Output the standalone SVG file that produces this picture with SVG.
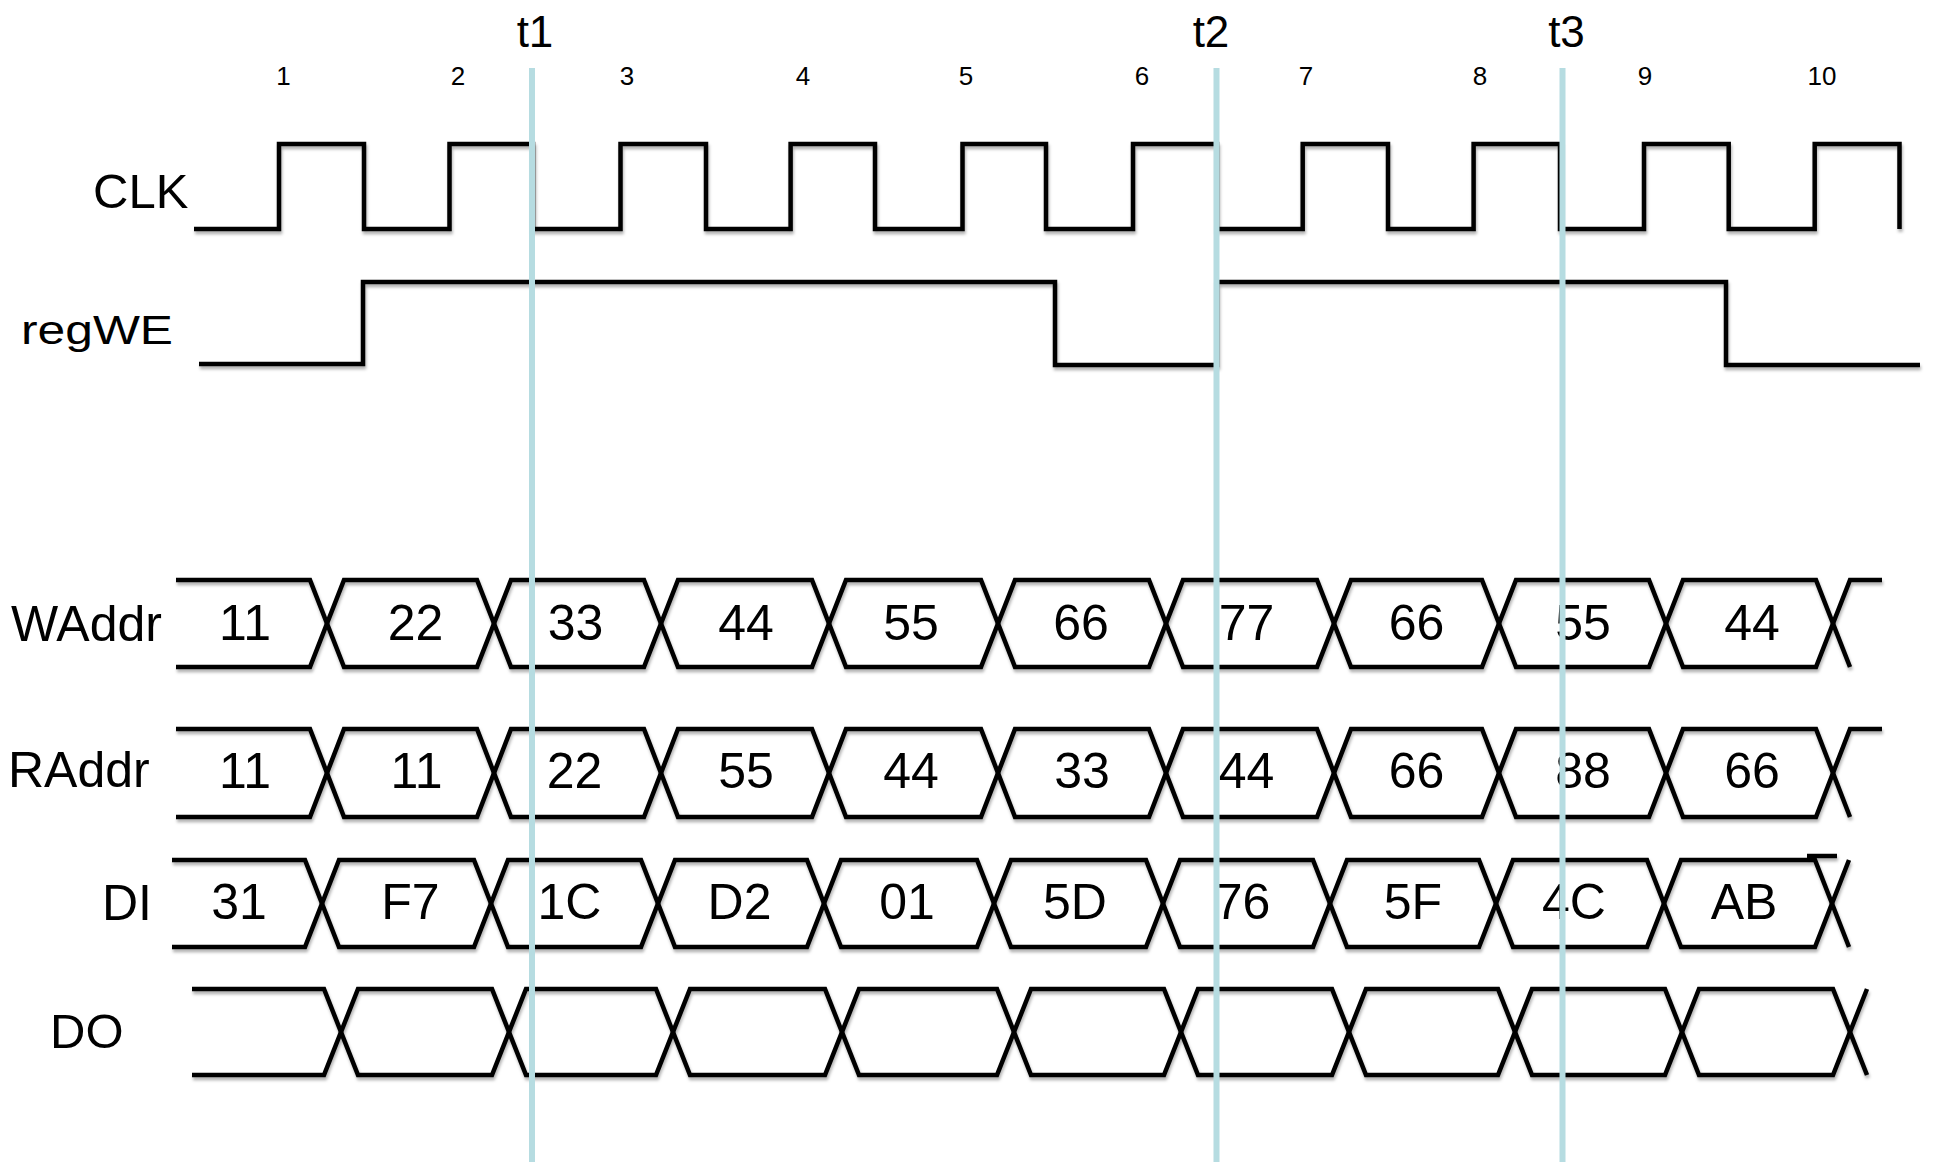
<svg xmlns="http://www.w3.org/2000/svg" width="1933" height="1167" viewBox="0 0 1933 1167">
<style>
text{font-family:"Liberation Sans",Arial,Helvetica,sans-serif;fill:#000}
.lbl{font-size:50px}
.val{font-size:50px;text-anchor:middle}
.num{font-size:26px;text-anchor:middle}
.tm{font-size:44px;text-anchor:middle}
.wave{fill:none;stroke:#000;stroke-width:4.5;stroke-linejoin:miter;stroke-linecap:butt}
.marker{stroke:#b6dce1;stroke-width:6;fill:none}
</style>
<defs>
<filter id="sh" filterUnits="userSpaceOnUse" x="0" y="0" width="1933" height="1167">
<feDropShadow dx="1" dy="3" stdDeviation="1.5" flood-color="#000" flood-opacity="0.3"/>
</filter>
</defs>
<rect width="1933" height="1167" fill="#fff"/>

<g id="cycles">
<text class="num" x="283.5" y="85">1</text>
<text class="num" x="458" y="85">2</text>
<text class="num" x="627" y="85">3</text>
<text class="num" x="803" y="85">4</text>
<text class="num" x="966" y="85">5</text>
<text class="num" x="1142" y="85">6</text>
<text class="num" x="1306" y="85">7</text>
<text class="num" x="1480" y="85">8</text>
<text class="num" x="1645" y="85">9</text>
<text class="num" x="1822" y="85">10</text>
</g>

<g id="clk">
<text class="lbl" x="93" y="208" style="font-size:49px">CLK</text>
<path class="wave" filter="url(#sh)" d="M194,229 L279,229 L279,144 L364,144 L364,229 L449.5,229 L449.5,144 L533,144 L533,229 L620.5,229 L620.5,144 L706,144 L706,229 L790.6,229 L790.6,144 L875,144 L875,229 L962.5,229 L962.5,144 L1046,144 L1046,229 L1133,229 L1133,144 L1217,144 L1217,229 L1302.7,229 L1302.7,144 L1388,144 L1388,229 L1473.6,229 L1473.6,144 L1560,144 L1560,229 L1644,229 L1644,144 L1728.7,144 L1728.7,229 L1814.7,229 L1814.7,144 L1899.5,144 L1899.5,229"/>
</g>

<g id="regWE">
<text class="lbl" x="21" y="344" style="font-size:40px" textLength="152" lengthAdjust="spacingAndGlyphs">regWE</text>
<path class="wave" filter="url(#sh)" d="M199,364 L363,364 L363,282 L1055,282 L1055,365 L1217,365 L1217,282 L1726,282 L1726,365 L1920,365"/>
</g>

<g id="WAddr">
<text class="lbl" x="11" y="641">WAddr</text>
<g filter="url(#sh)">
<path class="wave" d="M176,580 L310,580 L344,667 L477,667 L511,580 L644,580 L678,667 L812,667 L846,580 L981,580 L1015,667 L1149,667 L1183,580 L1317,580 L1351,667 L1482,667 L1516,580 L1649,580 L1683,667 L1816,667 L1850,580 L1882,580"/>
<path class="wave" d="M176,667 L310,667 L344,580 L477,580 L511,667 L644,667 L678,580 L812,580 L846,667 L981,667 L1015,580 L1149,580 L1183,667 L1317,667 L1351,580 L1482,580 L1516,667 L1649,667 L1683,580 L1816,580 L1850,667"/>
</g>
<text class="val" x="245" y="640">11</text>
<text class="val" x="415.5" y="640">22</text>
<text class="val" x="575.5" y="640">33</text>
<text class="val" x="746" y="640">44</text>
<text class="val" x="911" y="640">55</text>
<text class="val" x="1081" y="640">66</text>
<text class="val" x="1246.5" y="640">77</text>
<text class="val" x="1416.5" y="640">66</text>
<text class="val" x="1583" y="640">55</text>
<text class="val" x="1752" y="640">44</text>
</g>

<g id="RAddr">
<text class="lbl" x="8" y="787">RAddr</text>
<g filter="url(#sh)">
<path class="wave" d="M176,729 L310,729 L344,817 L477,817 L511,729 L644,729 L678,817 L812,817 L846,729 L981,729 L1015,817 L1149,817 L1183,729 L1317,729 L1351,817 L1482,817 L1516,729 L1649,729 L1683,817 L1816,817 L1850,729 L1882,729"/>
<path class="wave" d="M176,817 L310,817 L344,729 L477,729 L511,817 L644,817 L678,729 L812,729 L846,817 L981,817 L1015,729 L1149,729 L1183,817 L1317,817 L1351,729 L1482,729 L1516,817 L1649,817 L1683,729 L1816,729 L1850,817"/>
</g>
<text class="val" x="245" y="788">11</text>
<text class="val" x="416.5" y="788">11</text>
<text class="val" x="574.5" y="788">22</text>
<text class="val" x="746" y="788">55</text>
<text class="val" x="911" y="788">44</text>
<text class="val" x="1082" y="788">33</text>
<text class="val" x="1246.5" y="788">44</text>
<text class="val" x="1416.5" y="788">66</text>
<text class="val" x="1583" y="788">88</text>
<text class="val" x="1752" y="788">66</text>
</g>

<g id="DI">
<text class="lbl" x="102" y="920">DI</text>
<g filter="url(#sh)">
<path class="wave" d="M172,860 L305,860 L339,947 L474,947 L508,860 L641,860 L675,947 L807,947 L841,860 L977,860 L1011,947 L1146,947 L1180,860 L1313,860 L1347,947 L1479,947 L1513,860 L1647,860 L1681,947 L1815,947 L1849,860"/>
<path class="wave" d="M172,947 L305,947 L339,860 L474,860 L508,947 L641,947 L675,860 L807,860 L841,947 L977,947 L1011,860 L1146,860 L1180,947 L1313,947 L1347,860 L1479,860 L1513,947 L1647,947 L1681,860 L1815,860 L1849,947"/>
<path class="wave" d="M1807,856 L1837,856"/>
</g>
<text class="val" x="239" y="919">31</text>
<text class="val" x="410.5" y="919">F7</text>
<text class="val" x="569.5" y="919">1C</text>
<text class="val" x="739.5" y="919">D2</text>
<text class="val" x="907" y="919">01</text>
<text class="val" x="1075" y="919">5D</text>
<text class="val" x="1242.5" y="919">76</text>
<text class="val" x="1413" y="919">5F</text>
<text class="val" x="1574" y="919">4C</text>
<text class="val" x="1744" y="919">AB</text>
</g>

<g id="DO">
<text class="lbl" x="50" y="1048" style="font-size:49px">DO</text>
<g filter="url(#sh)">
<path class="wave" d="M192,989 L324,989 L358,1075 L492,1075 L526,989 L656,989 L690,1075 L825,1075 L859,989 L997,989 L1031,1075 L1164,1075 L1198,989 L1332,989 L1366,1075 L1498,1075 L1532,989 L1665,989 L1699,1075 L1833,1075 L1867,989"/>
<path class="wave" d="M192,1075 L324,1075 L358,989 L492,989 L526,1075 L656,1075 L690,989 L825,989 L859,1075 L997,1075 L1031,989 L1164,989 L1198,1075 L1332,1075 L1366,989 L1498,989 L1532,1075 L1665,1075 L1699,989 L1833,989 L1867,1075"/>
</g>
</g>

<g id="connectors">
<line class="marker" x1="532" y1="68" x2="532" y2="1162"/>
<line class="marker" x1="1216.5" y1="68" x2="1216.5" y2="1162"/>
<line class="marker" x1="1562.5" y1="68" x2="1562.5" y2="1162"/>
</g>

<g id="time-labels">
<text class="tm" x="535" y="47">t1</text>
<text class="tm" x="1211" y="47">t2</text>
<text class="tm" x="1566.5" y="47">t3</text>
</g>
</svg>
